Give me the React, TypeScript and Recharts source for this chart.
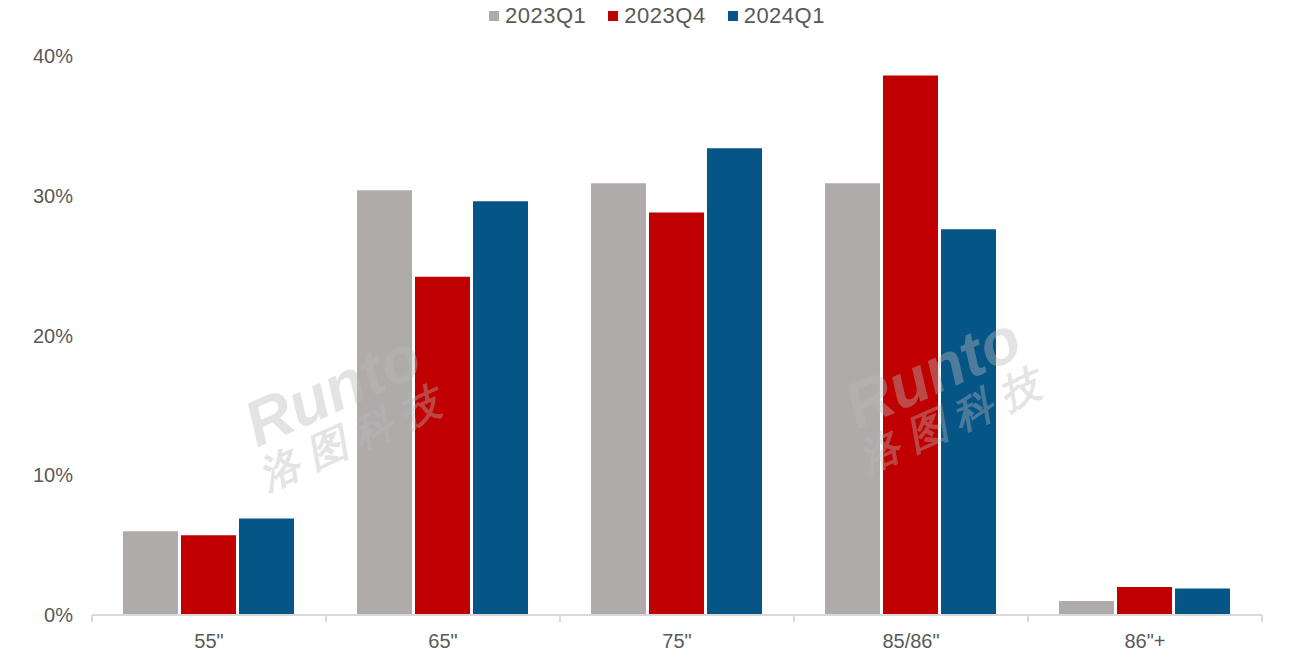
import React from 'react'
import { BarChart, Bar, XAxis, YAxis, Legend } from 'recharts'

const sizes = ['55"', '65"', '75"', '85/86"', '86"+']
const q2023q1 = [6.0, 30.4, 30.9, 30.9, 1.0]
const q2023q4 = [5.7, 24.2, 28.8, 38.6, 2.0]
const q2024q1 = [6.9, 29.6, 33.4, 27.6, 1.9]
const yTicks = [0, 10, 20, 30, 40]

const series = [
  { key: '2023Q1', color: '#AFABAB', values: q2023q1 },
  { key: '2023Q4', color: '#C00000', values: q2023q4 },
  { key: '2024Q1', color: '#055587', values: q2024q1 },
]

const data = sizes.map((s, i) => {
  const row: Record<string, string | number> = { size: s }
  series.forEach((se) => (row[se.key] = se.values[i]))
  return row
})

const textColor = '#595959'
const font = '"Liberation Sans", Arial, sans-serif'

const SizeTick = (props: any) => {
  const { x, y, payload, index } = props
  const half = payload.offset || 117
  const last = index === sizes.length - 1
  return (
    <g>
      <line x1={x - half} x2={x - half} y1={y} y2={y + 7} stroke='#d9d9d9' strokeWidth={2} />
      {last && <line x1={x + half} x2={x + half} y1={y} y2={y + 7} stroke='#d9d9d9' strokeWidth={2} />}
      <text x={x} y={y + 33} textAnchor='middle' fill={textColor} fontSize={20} fontFamily={font}>
        {payload.value}
      </text>
    </g>
  )
}

const LegendContent = () => (
  <div style={{ display: 'flex', justifyContent: 'center', fontFamily: font, fontSize: 22, color: textColor, paddingLeft: 44 }}>
    {series.map((se) => (
      <div key={se.key} style={{ display: 'flex', alignItems: 'center', margin: '0 11px', letterSpacing: 0.5 }}>
        <span style={{ width: 10, height: 10, background: se.color, marginRight: 6 }} />
        <span>{se.key}</span>
      </div>
    ))}
  </div>
)

const mark: React.CSSProperties = {
  position: 'absolute',
  color: 'rgba(185,185,185,0.4)',
  fontFamily: font,
  fontWeight: 'bold',
  fontStyle: 'italic',
  transform: 'rotate(-24deg)',
  pointerEvents: 'none',
  lineHeight: 1,
  whiteSpace: 'nowrap',
}

export default function App() {
  return (
    <div style={{ position: 'relative', width: 1275, height: 650 }}>
      <BarChart
        width={1275}
        height={650}
        data={data}
        margin={{ top: 22, right: 21, bottom: 13, left: 0 }}
        barCategoryGap={31}
        barGap={3}
      >
        <Legend verticalAlign='top' content={<LegendContent />} wrapperStyle={{ top: -5 }} />
        <XAxis
          dataKey='size'
          axisLine={{ stroke: '#d9d9d9', strokeWidth: 2 }}
          tickLine={false}
          tickSize={0}
          tickMargin={0}
          tick={<SizeTick />}
          interval={0}
        />
        <YAxis
          width={84}
          domain={[0, 40]}
          ticks={yTicks}
          axisLine={false}
          tickLine={false}
          tickSize={0}
          tickMargin={19}
          tickFormatter={(v) => `${v}%`}
          tick={{ fill: textColor, fontSize: 20, fontFamily: font }}
        />
        {series.map((se) => (
          <Bar key={se.key} dataKey={se.key} fill={se.color} isAnimationActive={false} />
        ))}
      </BarChart>
      <div style={{ ...mark, left: 232, top: 350, fontSize: 64 }}>Runto</div>
      <div style={{ ...mark, left: 245, top: 410, fontSize: 40 }}>洛 图 科 技</div>
      <div style={{ ...mark, left: 832, top: 332, fontSize: 64 }}>Runto</div>
      <div style={{ ...mark, left: 845, top: 392, fontSize: 40 }}>洛 图 科 技</div>
    </div>
  )
}
